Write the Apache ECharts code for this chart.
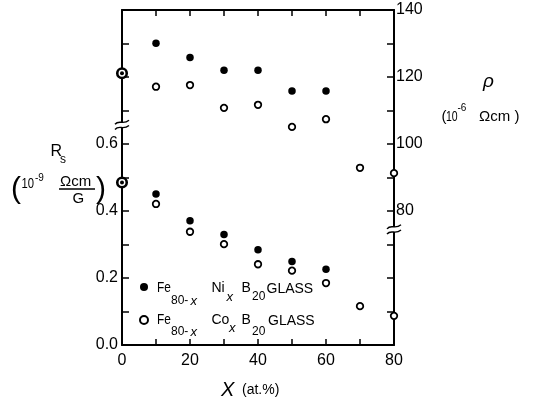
<!DOCTYPE html>
<html><head><meta charset="utf-8">
<script src="https://cdn.jsdelivr.net/npm/echarts@6/dist/echarts.min.js"></script>
<style>html,body{margin:0;padding:0;background:#fff}#c{width:534px;height:397px}</style>
</head><body><div id="c"></div>
<script>
// ---- data ----
const xNi = [0, 10, 20, 30, 40, 50, 60];
const rsNi = [0.485, 0.451, 0.371, 0.330, 0.284, 0.249, 0.226];
const rhoNi = [121.1, 130.1, 125.8, 122.0, 122.0, 115.8, 115.8];
const xCo = [0, 10, 20, 30, 40, 50, 60, 70, 80];
const rsCo = [0.485, 0.421, 0.338, 0.301, 0.241, 0.222, 0.185, 0.116, 0.087];
const rhoCo = [121.1, 117.1, 117.6, 110.8, 111.7, 105.1, 107.4, 92.9, 91.3];
const xTickLabels = [0, 20, 40, 60, 80];
const rsTickLabels = [0.0, 0.2, 0.4, 0.6];
const rhoTickLabels = [80, 100, 120, 140];
const rsBreak = [[0, 0.657]];
const rhoBreak = [[80, 74.5]];

const FONT = "'Liberation Sans', Arial, sans-serif";
const chart = echarts.init(document.getElementById('c'), null, {renderer: 'canvas'});

function coPts(ys) {
  return xCo.map((x, i) => i === 0
    ? {value: [x, ys[i]], symbolSize: 9.5, itemStyle: {borderWidth: 2.6}}
    : [x, ys[i]]);
}
function niPts(ys) {
  return xNi.map((x, i) => i === 0 ? {value: [x, ys[i]], symbolSize: 4} : [x, ys[i]]);
}
function breakItem(params, api) {
  const p = api.coord([api.value(0), api.value(1)]);
  const cx = p[0], cy = p[1];
  const wave = dy => ({
    type: 'bezierCurve',
    shape: {x1: cx - 7, y1: cy + 2 + dy, cpx1: cx - 3, cpy1: cy - 3 + dy, cpx2: cx + 1, cpy2: cy + 3 + dy, x2: cx + 7, y2: cy - 2 + dy},
    style: {stroke: '#000', lineWidth: 1.4, fill: null}
  });
  return {type: 'group', children: [
    {type: 'rect', shape: {x: cx - 3, y: cy - 2.5, width: 6, height: 5}, style: {fill: '#fff'}},
    wave(-2.6), wave(2.6)
  ]};
}

const axisLine = {show: true, onZero: false, lineStyle: {color: '#000', width: 2}};
const labelStyle = {color: '#000', fontFamily: FONT, fontSize: 16};

const T = (text, x, y, size, font, sx) => ({
  type: 'text', x: x, y: y, silent: true, scaleX: sx || 1,
  style: {text: text, fill: '#000', font: font || (size + 'px ' + FONT),
          align: 'left', verticalAlign: 'middle', textAlign: 'left', textVerticalAlign: 'middle'}
});

chart.setOption({
  animation: false,
  backgroundColor: '#fff',
  grid: {left: 122, right: 140, top: 10, bottom: 52, containLabel: false},
  legend: {
    show: true, orient: 'vertical', left: 139, top: 283, padding: 0,
    itemWidth: 8, itemHeight: 8, itemGap: 24,
    data: ['Fe80-xNixB20', 'Fe80-xCoxB20'],
    formatter: () => '', textStyle: {fontSize: 8, lineHeight: 8},
    selectedMode: false
  },
  xAxis: [
    {type: 'value', position: 'bottom', min: 0, max: 80, interval: 10,
     axisLine: axisLine, splitLine: {show: false},
     axisTick: {show: true, inside: true, length: 6, lineStyle: {color: '#000', width: 1.5}},
     axisLabel: Object.assign({margin: 8, formatter: v => xTickLabels.includes(v) ? String(v) : ''}, labelStyle)},
    {type: 'value', position: 'top', min: 0, max: 80, interval: 10,
     axisLine: axisLine, splitLine: {show: false},
     axisTick: {show: true, inside: true, length: 6, lineStyle: {color: '#000', width: 1.5}},
     axisLabel: {show: false}}
  ],
  yAxis: [
    {type: 'value', position: 'left', min: 0, max: 1.0, interval: 0.1,
     axisLine: axisLine, splitLine: {show: false},
     axisTick: {show: true, inside: true, length: 7, lineStyle: {color: '#000', width: 1.5}},
     axisLabel: Object.assign({margin: 4, formatter: v => {
       const r = Math.round(v * 10) / 10;
       return rsTickLabels.some(l => Math.abs(l - r) < 1e-6) ? r.toFixed(1) : '';
     }}, labelStyle)},
    {type: 'value', position: 'right', min: 40, max: 140, interval: 10,
     axisLine: axisLine, splitLine: {show: false},
     axisTick: {show: true, inside: true, length: 7, lineStyle: {color: '#000', width: 1.5}},
     axisLabel: Object.assign({margin: 2, formatter: v => rhoTickLabels.includes(v) ? String(v) : ''}, labelStyle)}
  ],
  series: [
    {name: 'Fe80-xCoxB20', type: 'scatter', xAxisIndex: 0, yAxisIndex: 0, symbol: 'circle', symbolSize: 6.5,
     itemStyle: {color: '#fff', borderColor: '#000', borderWidth: 1.8, opacity: 1}, data: coPts(rsCo), z: 3, clip: false},
    {name: 'Fe80-xCoxB20', type: 'scatter', xAxisIndex: 0, yAxisIndex: 1, symbol: 'circle', symbolSize: 6.5,
     itemStyle: {color: '#fff', borderColor: '#000', borderWidth: 1.8, opacity: 1}, data: coPts(rhoCo), z: 3, clip: false},
    {name: 'Fe80-xNixB20', type: 'scatter', xAxisIndex: 0, yAxisIndex: 0, symbol: 'circle', symbolSize: 7.5,
     itemStyle: {color: '#000', opacity: 1}, data: niPts(rsNi), z: 4, clip: false},
    {name: 'Fe80-xNixB20', type: 'scatter', xAxisIndex: 0, yAxisIndex: 1, symbol: 'circle', symbolSize: 7.5,
     itemStyle: {color: '#000', opacity: 1}, data: niPts(rhoNi), z: 4, clip: false},
    {name: 'break-left', type: 'custom', xAxisIndex: 0, yAxisIndex: 0, renderItem: breakItem, data: rsBreak, z: 5, silent: true},
    {name: 'break-right', type: 'custom', xAxisIndex: 0, yAxisIndex: 1, renderItem: breakItem, data: rhoBreak, z: 5, silent: true}
  ],
  graphic: [
    // left axis title
    T('R', 50.5, 152, 16),
    T('s', 60, 160, 12),
    T('(', 11, 190, 30, '30px ' + FONT),
    T('10', 21.5, 184, 15, null, 0.75),
    T('-9', 35, 178, 10),
    T('Ωcm', 60, 182, 15),
    {type: 'line', silent: true, shape: {x1: 59, y1: 189, x2: 95, y2: 189}, style: {stroke: '#000', lineWidth: 1.5}},
    T('G', 72.5, 198.5, 15),
    T(')', 96, 190, 30, '30px ' + FONT),
    // right axis title
    T('ρ', 483, 82, 19, 'italic 19px ' + FONT),
    T('(', 441.5, 117, 15),
    T('10', 446, 117, 15, null, 0.7),
    T('-6', 457.5, 108, 10),
    T('Ωcm', 479, 117, 15),
    T(')', 514.5, 117, 15),
    // x axis title
    T('X', 221, 390, 20, 'italic 20px ' + FONT),
    T('(at.%)', 242, 390, 14),
    // legend texts
    T('Fe', 157, 288, 14, null, 0.85),
    T('80-', 171, 301, 12),
    T('x', 190.5, 301, 13, 'italic 13px ' + FONT),
    T('Ni', 211.5, 288, 14),
    T('x', 226.5, 297.5, 13, 'italic 13px ' + FONT),
    T('B', 241.5, 288, 14),
    T('20', 252, 297, 12),
    T('GLASS', 266.5, 289, 14),
    T('Fe', 157, 320, 14, null, 0.85),
    T('80-', 171, 332, 12),
    T('x', 190.5, 332, 13, 'italic 13px ' + FONT),
    T('Co', 211.5, 320, 14),
    T('x', 229, 328.5, 13, 'italic 13px ' + FONT),
    T('B', 241.5, 320, 14),
    T('20', 252, 332, 12),
    T('GLASS', 268, 321.5, 14)
  ]
});
</script></body></html>
